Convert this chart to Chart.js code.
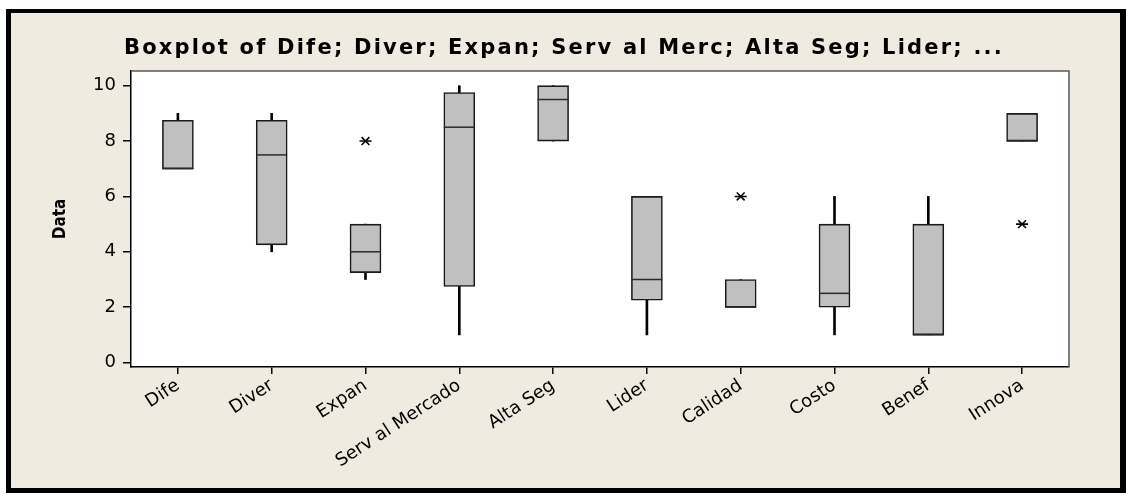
<!DOCTYPE html>
<html>
<head>
<meta charset="utf-8">
<script src="https://cdn.jsdelivr.net/npm/chart.js@4.4.1/dist/chart.umd.min.js"></script>
<style>
  html, body { margin: 0; padding: 0; background: #ffffff; width: 1126px; height: 494px; overflow: hidden; }
  #frame { position: absolute; left: 6px; top: 9px; width: 1109px; height: 475px;
           border-style: solid; border-color: #000; border-width: 4px 6px 5px 5px; background: #EFEBE1; }
  #wrap { position: absolute; left: 0; top: 0; width: 1126px; height: 494px; }
</style>
</head>
<body>
<div id="frame"></div>
<div id="wrap"><canvas id="c" width="1126" height="494"></canvas></div>
<script>
// ---- data ----
const categories = ["Dife", "Diver", "Expan", "Serv al Mercado", "Alta Seg", "Lider", "Calidad", "Costo", "Benef", "Innova"];
const mins     = [7,    4,    3,    1,    8,   1,    2, 1,   1, 8];
const q1s      = [7,    4.25, 3.25, 2.75, 8,   2.25, 2, 2,   1, 8];
const medians  = [7,    7.5,  4,    8.5,  9.5, 3,    2, 2.5, 1, 8];
const q3s      = [8.75, 8.75, 5,    9.75, 10,  6,    3, 5,   5, 9];
const maxs     = [9,    9,    5,    10,   10,  6,    3, 6,   6, 9];
const outliers = [null, null, 8,    null, null, null, 6, null, null, 5];
const yTicks   = [0, 2, 4, 6, 8, 10];
const chartTitle = "Boxplot of Dife; Diver; Expan; Serv al Merc; Alta Seg; Lider; ...";
const yTitle = "Data";

const boxes = q1s.map((q, i) => [q, q3s[i]]);
const lowerWhiskers = mins.map((m, i) => [m, q1s[i]]);
const upperWhiskers = maxs.map((m, i) => [q3s[i], m]);

const plotFrame = {
  id: 'plotFrame',
  beforeDraw(chart) {
    const a = chart.chartArea, ctx = chart.ctx;
    ctx.save();
    ctx.fillStyle = '#ffffff';
    ctx.fillRect(a.left, a.top, a.right - a.left, a.bottom - a.top);
    ctx.restore();
  },
  beforeDatasetsDraw(chart) {
    const a = chart.chartArea, ctx = chart.ctx;
    ctx.save();
    ctx.strokeStyle = '#5a5a5a';
    ctx.lineWidth = 1.5;
    ctx.beginPath();
    ctx.moveTo(a.left, a.top);
    ctx.lineTo(a.right, a.top);
    ctx.lineTo(a.right, a.bottom);
    ctx.stroke();
    ctx.restore();
  },
  afterDraw(chart) {
    // chart title (wide bold lettering as in the reference)
    const ctx = chart.ctx;
    ctx.save();
    ctx.font = 'bold 21px "DejaVu Sans"';
    if ('letterSpacing' in ctx) ctx.letterSpacing = '2.2px';
    ctx.fillStyle = '#000';
    ctx.textAlign = 'center';
    ctx.textBaseline = 'alphabetic';
    ctx.fillText(chartTitle, 564, 54);
    ctx.restore();
  }
};

new Chart(document.getElementById('c'), {
  type: 'bar',
  data: {
    labels: categories,
    datasets: [
      { type: 'line', label: 'Median', data: medians, showLine: false, pointStyle: 'line',
        pointRadius: 15.5, pointBorderColor: '#2a2a2a', pointBorderWidth: 1.5, order: 0 },
      { type: 'line', label: 'Outlier', data: outliers, showLine: false, pointStyle: 'crossRot',
        pointRadius: 5.5, pointBorderColor: '#000', pointBorderWidth: 1.6, order: 1 },
      { type: 'line', label: 'Outlier bar', data: outliers, showLine: false, pointStyle: 'line',
        pointRadius: 6, pointBorderColor: '#000', pointBorderWidth: 1.6, order: 1 },
      { label: 'Box', data: boxes, backgroundColor: '#C0C0C0', borderColor: '#1a1a1a',
        borderWidth: 1.6, borderSkipped: false, barThickness: 31, grouped: false, order: 2 },
      { label: 'Upper', data: upperWhiskers, backgroundColor: '#000', borderWidth: 0,
        barThickness: 2, grouped: false, order: 3 },
      { label: 'Lower', data: lowerWhiskers, backgroundColor: '#000', borderWidth: 0,
        barThickness: 2, grouped: false, order: 3 }
    ]
  },
  options: {
    responsive: false,
    animation: false,
    events: [],
    layout: { padding: { left: 0, right: 57, top: 71, bottom: 0 } },
    plugins: {
      legend: { display: false },
      tooltip: { enabled: false },
      title: { display: false }
    },
    scales: {
      x: {
        type: 'category',
        offset: true,
        grid: { display: true, drawOnChartArea: false, drawTicks: true, tickLength: 7, color: '#000', offset: false, lineWidth: 1.5 },
        border: { display: true, color: '#000', width: 1.5 },
        ticks: { color: '#000', font: { family: 'DejaVu Sans', size: 18 }, minRotation: 33, maxRotation: 33, padding: 1, autoSkip: false },
        afterFit(scale) { scale.height = 127; }
      },
      y: {
        type: 'linear',
        min: -0.16, max: 10.53,
        grid: { display: true, drawOnChartArea: false, drawTicks: true, tickLength: 8, color: '#000', lineWidth: 1.5 },
        border: { display: true, color: '#000', width: 1.5 },
        ticks: { color: '#000', font: { family: 'DejaVu Sans', size: 18 }, padding: 7 },
        afterBuildTicks(scale) { scale.ticks = yTicks.map(v => ({ value: v })); },
        title: { display: true, text: yTitle, color: '#000',
                 font: { family: 'DejaVu Sans Condensed', size: 17, weight: 'bold', lineHeight: 1.2 },
                 padding: { top: 50, bottom: 0 } },
        afterFit(scale) { scale.width = 131; }
      }
    }
  },
  plugins: [plotFrame]
});
</script>
</body>
</html>
